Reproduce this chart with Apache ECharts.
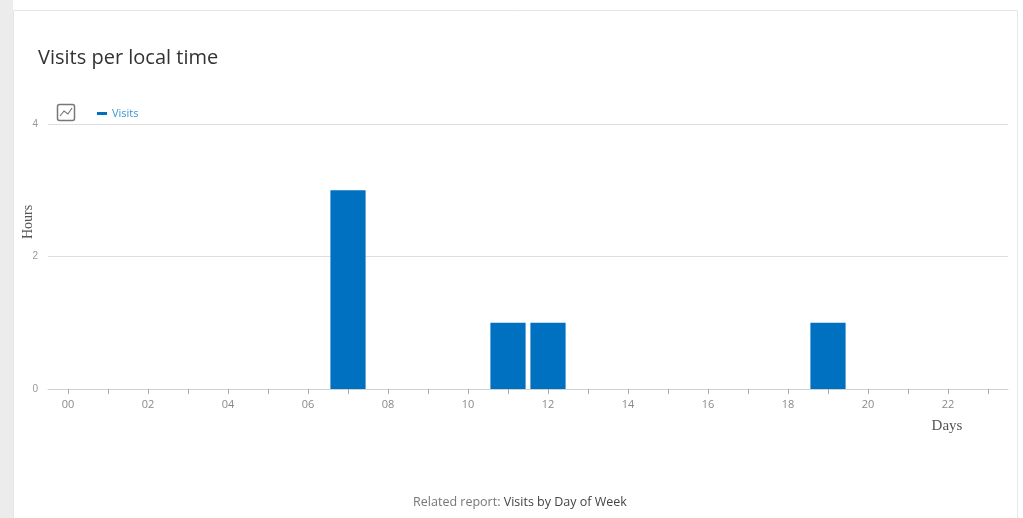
<!DOCTYPE html>
<html><head><meta charset="utf-8">
<script src="https://cdn.jsdelivr.net/npm/echarts@6/dist/echarts.min.js"></script>
<style>html,body{margin:0;padding:0;background:#fff;}#c{width:1023px;height:518px;}</style>
</head><body><div id="c"></div>
<script>
const hours = ['00','01','02','03','04','05','06','07','08','09','10','11','12','13','14','15','16','17','18','19','20','21','22','23'];
const visits = [0,0,0,0,0,0,0,3,0,0,0,1,1,0,0,0,0,0,0,1,0,0,0,0];
const yTicks = [0,2,4];
const seriesName = 'Visits';

const chart = echarts.init(document.getElementById('c'));
chart.setOption({
  animation:false,
  title:{text:'Visits per local time',left:33,top:43,textStyle:{fontFamily:'Open Sans',fontSize:20,fontWeight:'normal',color:'#333'}},
  legend:{data:[seriesName],left:92,top:103,icon:'rect',itemWidth:10,itemHeight:3,itemGap:5,
    textStyle:{color:'#3b95d6',fontSize:11,fontFamily:'Open Sans'}},
  grid:{left:48,right:15,top:124,bottom:129},
  xAxis:{type:'category',data:hours,
    axisLine:{lineStyle:{color:'#d0d0d0'}},
    axisTick:{show:true,alignWithLabel:true,interval:0,length:5,lineStyle:{color:'#aaa',width:1}},
    axisLabel:{interval:1,color:'#8a8a8a',fontSize:11,margin:10,fontFamily:'Open Sans'}},
  yAxis:{type:'value',min:yTicks[0],max:yTicks[yTicks.length-1],interval:2,
    axisLabel:{color:'#999',fontSize:10,margin:10},
    splitLine:{lineStyle:{color:'#dedede'}},axisLine:{show:false},axisTick:{show:false}},
  series:[{name:seriesName,type:'bar',data:visits,barCategoryGap:'12%',itemStyle:{color:'#0071c1'}}],
  graphic:[
    {type:'rect',z:-10,shape:{x:0,y:0,width:13,height:518},style:{fill:'#ececec'}},
    {type:'rect',z:-9,shape:{x:13.5,y:10.5,width:1004,height:520},style:{fill:'#fff',stroke:'#e6e6e6',lineWidth:1}},
    {type:'rect',shape:{x:57.5,y:104.5,width:17,height:16,r:2},style:{fill:'#fff',stroke:'#777',lineWidth:1.5}},
    {type:'polyline',shape:{points:[[60,116],[64,111],[68,114],[72,108]]},style:{stroke:'#777',fill:null,lineWidth:1.2}},
    {type:'text',x:28,y:222,rotation:Math.PI/2,style:{text:'Hours',font:'14px "Liberation Serif"',fill:'#555',align:'center',verticalAlign:'middle'}},
    {type:'text',x:947,y:426,style:{text:'Days',font:'15px "Liberation Serif"',fill:'#555',align:'center',verticalAlign:'middle'}},
    {type:'text',x:520,y:502,style:{text:'{a|Related report: }{b|Visits by Day of Week}',align:'center',verticalAlign:'middle',
      rich:{a:{fontFamily:'Open Sans',fontSize:12.5,fill:'#777'},b:{fontFamily:'Open Sans',fontSize:12.5,fill:'#444'}}}}
  ]
});
</script></body></html>
